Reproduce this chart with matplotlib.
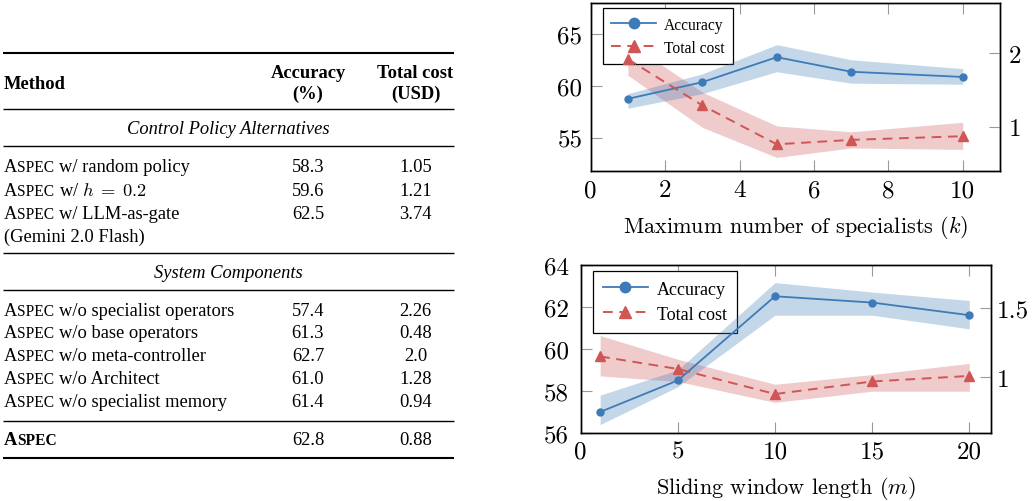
import matplotlib
matplotlib.use("Agg")
import matplotlib.pyplot as plt
from matplotlib.lines import Line2D

plt.rcParams['mathtext.fontset'] = 'cm'
plt.rcParams['axes.formatter.use_mathtext'] = True

W, H, DPI = 1032, 502, 100
SERIF = 'Liberation Serif'
CM = 'cmr10'

# ---------------- table data ----------------
table_headers = ["Method", "Accuracy", "(%)", "Total cost", "(USD)"]
section_titles = ["Control Policy Alternatives", "System Components"]
ctrl_methods = ["w/ random policy", r"w/ $h\;=\;0.2$", "w/ LLM-as-gate"]
ctrl_extra = "(Gemini 2.0 Flash)"
ctrl_acc = ["58.3", "59.6", "62.5"]
ctrl_cost = ["1.05", "1.21", "3.74"]
comp_methods = ["w/o specialist operators", "w/o base operators", "w/o meta-controller",
                "w/o Architect", "w/o specialist memory"]
comp_acc = ["57.4", "61.3", "62.7", "61.0", "61.4"]
comp_cost = ["2.26", "0.48", "2.0", "1.28", "0.94"]
full_acc = "62.8"
full_cost = "0.88"

# ---------------- plot data ----------------
k_vals = [1, 3, 5, 7, 10]
k_acc = [58.8, 60.4, 62.8, 61.4, 60.9]
k_acc_lo = [57.9, 59.3, 61.4, 60.3, 60.2]
k_acc_hi = [59.3, 61.2, 64.0, 62.55, 61.7]
k_cost = [1.92, 1.29, 0.76, 0.82, 0.87]
k_cost_lo = [1.70, 0.99, 0.58, 0.71, 0.69]
k_cost_hi = [2.15, 1.47, 1.01, 0.93, 1.06]
k_xticks = [0, 2, 4, 6, 8, 10]
k_acc_ticks = [55, 60, 65]
k_cost_ticks = [1, 2]

m_vals = [1, 5, 10, 15, 20]
m_acc = [57.0, 58.5, 62.5, 62.2, 61.6]
m_acc_lo = [56.4, 58.2, 61.6, 61.6, 60.95]
m_acc_hi = [57.8, 59.0, 63.15, 62.7, 62.3]
m_cost = [1.15, 1.06, 0.88, 0.97, 1.01]
m_cost_lo = [1.01, 0.97, 0.82, 0.90, 0.90]
m_cost_hi = [1.30, 1.13, 0.95, 1.02, 1.10]
m_xticks = [0, 5, 10, 15, 20]
m_acc_ticks = [56, 58, 60, 62, 64]
m_cost_ticks = [1, 1.5]
m_cost_ticklabels = ["1", "1.5"]

BLUE = '#3d7bb8'
RED = '#d05555'
TICKC = '#9a9a9a'
DASH = (0, (5.0, 3.4))

fig = plt.figure(figsize=(W / DPI, H / DPI), dpi=DPI)

# ---------------- table (pixel coordinates) ----------------
tax = fig.add_axes([0, 0, 1, 1])
tax.set_xlim(0, W)
tax.set_ylim(H, 0)
tax.axis('off')

FS = 13.3
SC = 0.84
X0, X1 = 3, 454
XACC, XCOST = 308, 415.5
renderer = fig.canvas.get_renderer()


def rule(y, lw):
    tax.plot([X0, X1], [y, y], color='black', lw=lw, solid_capstyle='butt')


def aspec_row(y, rest, bold=False):
    w = 'bold' if bold else 'normal'
    t1 = tax.text(X0 + 0.5, y, "A", fontsize=FS, family=SERIF, fontweight=w, va='baseline', ha='left')
    bb = t1.get_window_extent(renderer)
    t2 = tax.text(bb.x1 + 0.6, y, "SPEC", fontsize=FS * SC, family=SERIF, fontweight=w,
                  va='baseline', ha='left')
    if rest:
        bb2 = t2.get_window_extent(renderer)
        tax.text(bb2.x1 + 4.5, y, rest, fontsize=FS, family=SERIF, fontweight=w,
                 va='baseline', ha='left')


rule(54, 1.5)
tax.text(X0 + 0.5, 89.3, table_headers[0], fontsize=FS, family=SERIF, fontweight='bold', va='baseline')
tax.text(XACC, 77.7, table_headers[1], fontsize=FS, family=SERIF, fontweight='bold', va='baseline', ha='center')
tax.text(XACC, 98.5, table_headers[2], fontsize=FS, family=SERIF, fontweight='bold', va='baseline', ha='center')
tax.text(XCOST, 77.7, table_headers[3], fontsize=FS, family=SERIF, fontweight='bold', va='baseline', ha='center')
tax.text(XCOST, 98.5, table_headers[4], fontsize=FS, family=SERIF, fontweight='bold', va='baseline', ha='center')
rule(110, 1.0)
tax.text((X0 + X1) / 2, 134, section_titles[0], fontsize=FS, family=SERIF, style='italic',
         va='baseline', ha='center')
rule(146.7, 1.0)
ys = [172.3, 195.7, 219.0]
for y, meth, a, c in zip(ys, ctrl_methods, ctrl_acc, ctrl_cost):
    aspec_row(y, meth)
    tax.text(XACC, y, a, fontsize=FS, family=SERIF, va='baseline', ha='center')
    tax.text(XCOST, y, c, fontsize=FS, family=SERIF, va='baseline', ha='center')
tax.text(X0 + 0.5, 242.3, ctrl_extra, fontsize=FS, family=SERIF, va='baseline')
rule(254, 1.0)
tax.text((X0 + X1) / 2, 278.3, section_titles[1], fontsize=FS, family=SERIF, style='italic',
         va='baseline', ha='center')
rule(291, 1.0)
ys = [315.7, 337.7, 360.7, 384.0, 407.3]
for y, meth, a, c in zip(ys, comp_methods, comp_acc, comp_cost):
    aspec_row(y, meth)
    tax.text(XACC, y, a, fontsize=FS, family=SERIF, va='baseline', ha='center')
    tax.text(XCOST, y, c, fontsize=FS, family=SERIF, va='baseline', ha='center')
rule(421.7, 1.0)
aspec_row(445, "", bold=True)
tax.text(XACC, 445, full_acc, fontsize=FS, family=SERIF, va='baseline', ha='center')
tax.text(XCOST, 445, full_cost, fontsize=FS, family=SERIF, va='baseline', ha='center')
rule(459, 1.5)


# ---------------- plots ----------------
def rect(l, t, r, b):
    return [l / W, 1 - b / H, (r - l) / W, (b - t) / H]


def panel(rc, xs, acc, acc_lo, acc_hi, cost, cost_lo, cost_hi, xlim, ylim1, ylim2,
          xticks, yt1, yt2, yt2lab, xlabel, leg_xy, leg_fs, leg_hl, padl, padr, padx, labpad):
    ax1 = fig.add_axes(rc)
    ax1.set_zorder(1)
    ax1.set_xlim(*xlim)
    ax1.set_ylim(*ylim1)
    ax2 = ax1.twinx()
    ax2.set_zorder(2)
    ax2.set_ylim(*ylim2)
    ax1.set_xticks(xticks, labels=[str(v) for v in xticks])
    ax1.set_yticks(yt1, labels=[str(v) for v in yt1])
    ax2.set_yticks(yt2, labels=yt2lab)
    ax1.tick_params(axis='x', direction='in', top=True, bottom=True, length=8, width=0.8,
                    color=TICKC, labelsize=18, labelfontfamily=CM, pad=padx)
    ax1.tick_params(axis='y', direction='in', left=True, right=False, length=8, width=0.8,
                    color=TICKC, labelsize=18, labelfontfamily=CM, pad=padl)
    ax2.tick_params(axis='y', direction='in', left=False, right=True, length=8, width=0.8,
                    color=TICKC, labelsize=18, labelfontfamily=CM, pad=padr)
    for a in (ax1, ax2):
        for s in a.spines.values():
            s.set_linewidth(1.0)
            s.set_color('black')
    ax1.set_xlabel(xlabel, fontsize=16, family=CM, labelpad=labpad)

    ax2.fill_between(xs, cost_lo, cost_hi, color=RED, alpha=0.3, lw=0)

    ax3 = fig.add_axes(rc, sharex=ax1, sharey=ax1)
    ax3.set_zorder(4)
    ax3.axis('off')
    ax3.patch.set_visible(False)
    ax3.fill_between(xs, acc_lo, acc_hi, color=BLUE, alpha=0.3, lw=0)
    ax3.plot(xs, acc, color=BLUE, lw=1.3, marker='o', ms=5)

    ax4 = fig.add_axes(rc, sharex=ax1, sharey=ax2)
    ax4.set_zorder(5)
    ax4.axis('off')
    ax4.patch.set_visible(False)
    ax4.plot(xs, cost, color=RED, lw=1.4, ls=DASH, marker='^', ms=6.5)

    handles = [Line2D([], [], color=BLUE, lw=1.3, marker='o', ms=7.5),
               Line2D([], [], color=RED, lw=1.4, ls=DASH, marker='^', ms=8.5)]
    leg = fig.legend(handles, ["Accuracy", "Total cost"], loc='upper left',
                     bbox_to_anchor=(leg_xy[0] / W, 1 - leg_xy[1] / H), bbox_transform=fig.transFigure,
                     borderaxespad=0, fancybox=False, framealpha=1, edgecolor='black',
                     prop={'family': SERIF, 'size': leg_fs}, handlelength=leg_hl,
                     handletextpad=0.5, labelspacing=0.45, borderpad=0.55)
    leg.get_frame().set_linewidth(0.9)
    leg.set_zorder(3)
    return ax1, ax2


panel(rect(590.7, 4, 1000, 171.7), k_vals, k_acc, k_acc_lo, k_acc_hi, k_cost, k_cost_lo, k_cost_hi,
      (0, 11), (51.9, 68.0), (0.40, 2.685), k_xticks, k_acc_ticks, k_cost_ticks,
      [str(v) for v in k_cost_ticks], "Maximum number of specialists ($k$)",
      (602.7, 9.3), 11.2, 2.9, 6, 6, 6, 8.5)

panel(rect(580.7, 265.7, 990.7, 434), m_vals, m_acc, m_acc_lo, m_acc_hi, m_cost, m_cost_lo, m_cost_hi,
      (0, 21.1), (56, 64), (0.60, 1.809), m_xticks, m_acc_ticks, m_cost_ticks,
      m_cost_ticklabels, "Sliding window length ($m$)",
      (592.7, 271.7), 13, 2.5, 8.5, 4.5, 5, 8.5)

fig.savefig("out.png", dpi=DPI)
